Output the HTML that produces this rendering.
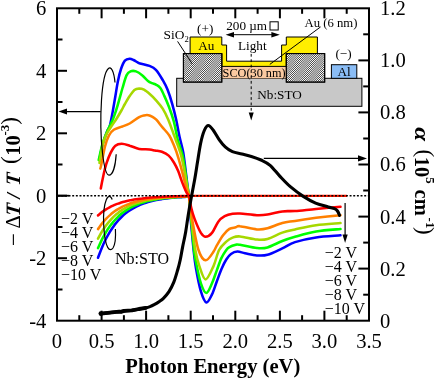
<!DOCTYPE html>
<html><head><meta charset="utf-8">
<style>
html,body{margin:0;padding:0;background:#fff;}
body{width:436px;height:378px;overflow:hidden;font-family:"Liberation Serif",serif;}
svg{display:block;font-family:"Liberation Serif",serif;will-change:transform;}
</style></head>
<body>
<svg width="436" height="378" viewBox="0 0 436 378">
<defs>
<clipPath id="cl1"><rect x="183.4" y="53.6" width="38.4" height="28.5"/></clipPath>
<clipPath id="cl2"><rect x="286.3" y="53.6" width="38.4" height="28.5"/></clipPath>
</defs>


<!-- inset diagram -->
<g stroke="#000" stroke-width="1">
<rect x="176.7" y="78.3" width="185.2" height="28" fill="#c8c8c8"/>
<rect x="221.8" y="66.4" width="64.5" height="11.9" fill="#fac9a0" stroke="none"/>
<polygon points="190.1,37 221.8,37 221.8,45 226.6,45 226.6,61.2 281.6,61.2 281.6,45 286.3,45 286.3,37 317.4,37 317.4,53.6 286.3,53.6 286.3,66.4 221.8,66.4 221.8,53.6 190.1,53.6" fill="#ffee00"/>
<rect x="183.4" y="53.6" width="38.4" height="28.5" fill="#fff"/>
<g clip-path="url(#cl1)" stroke-width="0.75"><line x1="153.76" y1="82.10" x2="183.40" y2="53.60"/><line x1="155.91" y1="82.10" x2="185.55" y2="53.60"/><line x1="158.06" y1="82.10" x2="187.70" y2="53.60"/><line x1="160.21" y1="82.10" x2="189.85" y2="53.60"/><line x1="162.36" y1="82.10" x2="192.00" y2="53.60"/><line x1="164.51" y1="82.10" x2="194.15" y2="53.60"/><line x1="166.66" y1="82.10" x2="196.30" y2="53.60"/><line x1="168.81" y1="82.10" x2="198.45" y2="53.60"/><line x1="170.96" y1="82.10" x2="200.60" y2="53.60"/><line x1="173.11" y1="82.10" x2="202.75" y2="53.60"/><line x1="175.26" y1="82.10" x2="204.90" y2="53.60"/><line x1="177.41" y1="82.10" x2="207.05" y2="53.60"/><line x1="179.56" y1="82.10" x2="209.20" y2="53.60"/><line x1="181.71" y1="82.10" x2="211.35" y2="53.60"/><line x1="183.86" y1="82.10" x2="213.50" y2="53.60"/><line x1="186.01" y1="82.10" x2="215.65" y2="53.60"/><line x1="188.16" y1="82.10" x2="217.80" y2="53.60"/><line x1="190.31" y1="82.10" x2="219.95" y2="53.60"/><line x1="192.46" y1="82.10" x2="222.10" y2="53.60"/><line x1="194.61" y1="82.10" x2="224.25" y2="53.60"/><line x1="196.76" y1="82.10" x2="226.40" y2="53.60"/><line x1="198.91" y1="82.10" x2="228.55" y2="53.60"/><line x1="201.06" y1="82.10" x2="230.70" y2="53.60"/><line x1="203.21" y1="82.10" x2="232.85" y2="53.60"/><line x1="205.36" y1="82.10" x2="235.00" y2="53.60"/><line x1="207.51" y1="82.10" x2="237.15" y2="53.60"/><line x1="209.66" y1="82.10" x2="239.30" y2="53.60"/><line x1="211.81" y1="82.10" x2="241.45" y2="53.60"/><line x1="213.96" y1="82.10" x2="243.60" y2="53.60"/><line x1="216.11" y1="82.10" x2="245.75" y2="53.60"/><line x1="218.26" y1="82.10" x2="247.90" y2="53.60"/><line x1="220.41" y1="82.10" x2="250.05" y2="53.60"/></g>
<rect x="183.4" y="53.6" width="38.4" height="28.5" fill="none"/>
<rect x="286.3" y="53.6" width="38.4" height="28.5" fill="#fff"/>
<g clip-path="url(#cl2)" stroke-width="0.75"><line x1="256.66" y1="82.10" x2="286.30" y2="53.60"/><line x1="258.81" y1="82.10" x2="288.45" y2="53.60"/><line x1="260.96" y1="82.10" x2="290.60" y2="53.60"/><line x1="263.11" y1="82.10" x2="292.75" y2="53.60"/><line x1="265.26" y1="82.10" x2="294.90" y2="53.60"/><line x1="267.41" y1="82.10" x2="297.05" y2="53.60"/><line x1="269.56" y1="82.10" x2="299.20" y2="53.60"/><line x1="271.71" y1="82.10" x2="301.35" y2="53.60"/><line x1="273.86" y1="82.10" x2="303.50" y2="53.60"/><line x1="276.01" y1="82.10" x2="305.65" y2="53.60"/><line x1="278.16" y1="82.10" x2="307.80" y2="53.60"/><line x1="280.31" y1="82.10" x2="309.95" y2="53.60"/><line x1="282.46" y1="82.10" x2="312.10" y2="53.60"/><line x1="284.61" y1="82.10" x2="314.25" y2="53.60"/><line x1="286.76" y1="82.10" x2="316.40" y2="53.60"/><line x1="288.91" y1="82.10" x2="318.55" y2="53.60"/><line x1="291.06" y1="82.10" x2="320.70" y2="53.60"/><line x1="293.21" y1="82.10" x2="322.85" y2="53.60"/><line x1="295.36" y1="82.10" x2="325.00" y2="53.60"/><line x1="297.51" y1="82.10" x2="327.15" y2="53.60"/><line x1="299.66" y1="82.10" x2="329.30" y2="53.60"/><line x1="301.81" y1="82.10" x2="331.45" y2="53.60"/><line x1="303.96" y1="82.10" x2="333.60" y2="53.60"/><line x1="306.11" y1="82.10" x2="335.75" y2="53.60"/><line x1="308.26" y1="82.10" x2="337.90" y2="53.60"/><line x1="310.41" y1="82.10" x2="340.05" y2="53.60"/><line x1="312.56" y1="82.10" x2="342.20" y2="53.60"/><line x1="314.71" y1="82.10" x2="344.35" y2="53.60"/><line x1="316.86" y1="82.10" x2="346.50" y2="53.60"/><line x1="319.01" y1="82.10" x2="348.65" y2="53.60"/><line x1="321.16" y1="82.10" x2="350.80" y2="53.60"/><line x1="323.31" y1="82.10" x2="352.95" y2="53.60"/></g>
<rect x="286.3" y="53.6" width="38.4" height="28.5" fill="none"/>
<rect x="331.4" y="64.7" width="25.4" height="13.6" fill="#8abdf6"/>
<line x1="177.6" y1="41.4" x2="192.2" y2="63.8"/>
<line x1="320.6" y1="26.9" x2="269.8" y2="64.4"/>
<rect x="270" y="21.8" width="8.2" height="8.2" fill="#fff"/>
<line x1="230" y1="34.7" x2="276" y2="34.7"/>
<line x1="251.2" y1="53.9" x2="251.2" y2="113.5" stroke-dasharray="2.8 2.6"/>
</g>
<polygon points="225.6,34.7 234,31.9 234,37.5" fill="#000"/>
<polygon points="279.8,34.7 271.4,31.9 271.4,37.5" fill="#000"/>
<polygon points="251.2,120.4 248.7,112.4 253.7,112.4" fill="#000"/>
<g font-size="13.2" fill="#000">
<text x="163.6" y="39.3" font-size="13.4">SiO<tspan font-size="8.6" dy="3">2</tspan></text>
<text x="205.2" y="33" text-anchor="middle">(+)</text>
<text x="206.2" y="50" text-anchor="middle">Au</text>
<text x="226.2" y="30.3">200 µm</text>
<text x="238" y="49.5">Light</text>
<text x="304.5" y="27.3" font-size="12.7">Au (6 nm)</text>
<text x="343.6" y="58.3" text-anchor="middle">(−)</text>
<text x="344.2" y="76" text-anchor="middle">Al</text>
<text x="257.3" y="98.6">Nb:STO</text>
<text x="222.6" y="76.8" textLength="63" lengthAdjust="spacingAndGlyphs">SCO(30 nm)</text>
</g>

<!-- curves -->
<g fill="none" stroke-width="2.55" stroke-linecap="round" stroke-linejoin="round">
<path d="M98.0 257.7C98.7 256.0 100.7 250.5 102.0 247.4C103.3 244.2 104.7 241.4 106.0 238.8C107.3 236.2 108.7 233.8 110.0 231.6C111.3 229.4 112.7 227.5 114.0 225.7C115.3 223.8 116.7 222.2 118.0 220.7C119.3 219.2 120.7 217.8 122.0 216.5C123.3 215.3 124.7 214.1 126.0 213.1C127.3 212.0 128.7 211.1 130.0 210.2C131.3 209.3 132.7 208.5 134.0 207.8C135.3 207.0 136.7 206.4 138.0 205.8C139.3 205.2 140.7 204.6 142.0 204.1C143.3 203.6 144.7 203.1 146.0 202.7C147.3 202.3 148.7 201.9 150.0 201.5C151.3 201.2 152.7 200.9 154.0 200.6C155.3 200.3 156.7 200.0 158.0 199.8C159.3 199.5 160.7 199.3 162.0 199.1C163.3 198.9 164.7 198.7 166.0 198.5C167.3 198.3 168.7 198.2 170.0 198.0C171.3 197.9 172.7 197.8 174.0 197.7C175.3 197.5 176.7 197.4 178.0 197.3C179.3 197.2 180.7 197.1 182.0 197.1C183.3 197.0 184.8 197.0 186.0 196.8C187.2 196.7 188.5 196.1 189.0 196.0" stroke="#0000ff"/>
<path d="M99.3 160.0C99.9 157.2 101.6 148.3 102.9 143.5C104.2 138.7 106.2 133.9 107.3 131.0C108.4 128.1 108.8 129.4 109.8 125.9C110.8 122.4 112.1 115.0 113.0 110.0C113.9 105.0 114.6 100.7 115.4 96.0C116.2 91.3 116.9 86.2 117.8 81.7C118.7 77.2 119.8 72.5 121.0 69.0C122.2 65.5 123.5 62.3 124.9 60.6C126.4 58.9 128.3 58.8 129.7 58.7C131.1 58.6 132.2 59.4 133.5 60.0C134.8 60.6 136.5 61.8 137.6 62.4C138.7 63.0 138.0 62.9 140.0 63.5C142.0 64.1 146.8 64.9 149.5 65.9C152.2 67.0 153.7 67.5 155.9 69.8C158.1 72.1 160.8 76.7 162.7 80.0C164.6 83.3 165.9 85.5 167.5 89.5C169.1 93.5 170.8 98.8 172.2 103.8C173.6 108.8 175.0 114.2 176.2 119.7C177.4 125.2 178.4 131.6 179.6 137.0C180.8 142.4 182.1 146.2 183.2 152.2C184.2 158.2 185.2 167.1 185.9 172.8C186.6 178.5 187.1 182.7 187.6 186.5C188.1 190.3 188.8 194.2 189.0 195.7" stroke="#0000ff"/>
<path d="M189.0 195.7C189.3 199.4 189.8 208.9 190.6 218.0C191.4 227.1 192.7 241.5 193.6 250.0C194.5 258.5 194.9 262.1 196.1 269.0C197.3 275.9 199.2 285.7 200.9 291.3C202.6 296.9 204.6 301.9 206.4 302.4C208.2 302.9 210.3 297.8 212.0 294.4C213.7 290.9 215.1 285.9 216.7 281.7C218.3 277.5 219.9 272.7 221.5 269.0C223.1 265.3 224.7 262.0 226.3 259.5C227.9 257.0 229.2 255.3 231.0 254.0C232.8 252.7 235.1 251.7 237.4 251.6C239.7 251.5 241.8 252.6 245.0 253.2C248.2 253.8 253.1 255.1 256.9 255.4C260.6 255.7 263.3 256.0 267.5 254.8C271.7 253.6 277.7 250.5 282.3 248.4C286.9 246.3 289.4 243.9 295.0 242.1C300.6 240.3 308.5 238.5 316.1 237.4C323.7 236.3 336.4 235.7 340.5 235.3" stroke="#0000ff"/>
<path d="M98.0 248.1C98.7 246.6 100.7 242.1 102.0 239.4C103.3 236.7 104.7 234.3 106.0 232.1C107.3 229.9 108.7 227.9 110.0 226.1C111.3 224.2 112.7 222.6 114.0 221.0C115.3 219.5 116.7 218.1 118.0 216.8C119.3 215.5 120.7 214.4 122.0 213.3C123.3 212.2 124.7 211.3 126.0 210.4C127.3 209.5 128.7 208.7 130.0 207.9C131.3 207.2 132.7 206.5 134.0 205.9C135.3 205.3 136.7 204.7 138.0 204.2C139.3 203.7 140.7 203.2 142.0 202.8C143.3 202.4 144.7 202.0 146.0 201.6C147.3 201.3 148.7 200.9 150.0 200.6C151.3 200.3 152.7 200.1 154.0 199.8C155.3 199.6 156.7 199.3 158.0 199.1C159.3 198.9 160.7 198.7 162.0 198.6C163.3 198.4 164.7 198.2 166.0 198.1C167.3 197.9 168.7 197.8 170.0 197.7C171.3 197.6 172.7 197.5 174.0 197.4C175.3 197.3 176.7 197.2 178.0 197.1C179.3 197.0 180.7 196.9 182.0 196.9C183.3 196.8 184.8 196.8 186.0 196.7C187.2 196.5 188.5 196.1 189.0 196.0" stroke="#00ff00"/>
<path d="M98.7 160.0C99.4 157.2 101.2 147.9 102.7 143.0C104.2 138.1 105.9 134.3 107.5 130.6C109.1 126.9 110.8 124.4 112.2 121.0C113.7 117.6 115.0 113.6 116.2 110.0C117.4 106.4 118.4 102.9 119.4 99.2C120.5 95.5 121.3 92.0 122.5 88.0C123.7 84.0 125.2 78.2 126.5 75.4C127.8 72.6 128.9 72.1 130.5 71.4C132.1 70.7 134.0 70.7 136.0 71.4C138.0 72.1 140.4 73.8 142.4 75.4C144.4 77.0 146.4 79.7 148.0 81.0C149.6 82.3 150.6 82.6 152.0 83.2C153.4 83.8 154.9 84.0 156.3 84.8C157.7 85.6 159.0 86.1 160.3 87.9C161.6 89.8 162.9 92.7 164.3 95.9C165.8 99.1 167.4 102.8 169.0 107.0C170.6 111.2 172.3 115.8 173.8 121.3C175.3 126.8 176.4 134.4 177.8 140.0C179.2 145.6 181.2 149.5 182.5 155.0C183.8 160.5 184.7 167.6 185.5 172.8C186.3 178.1 186.8 182.7 187.4 186.5C188.0 190.3 188.7 194.2 189.0 195.7" stroke="#00ff00"/>
<path d="M189.0 195.7C189.3 199.4 190.2 208.9 191.0 218.0C191.8 227.1 193.2 242.6 194.0 250.0C194.8 257.4 194.9 257.1 196.1 262.7C197.2 268.2 199.2 278.3 200.9 283.3C202.6 288.3 204.6 292.9 206.4 292.9C208.2 292.9 210.3 287.0 212.0 283.3C213.7 279.6 215.1 274.8 216.7 270.6C218.3 266.4 219.9 261.3 221.5 257.9C223.1 254.5 225.0 251.8 226.3 250.0C227.6 248.2 227.8 248.0 229.4 247.1C231.0 246.2 234.0 245.2 235.8 244.8C237.6 244.4 236.5 244.3 240.0 244.8C243.5 245.3 252.3 247.6 256.9 248.0C261.5 248.4 263.3 248.6 267.5 247.4C271.7 246.2 277.7 242.8 282.3 241.0C286.9 239.2 289.4 238.4 295.0 236.8C300.6 235.2 308.5 232.8 316.1 231.5C323.7 230.2 336.4 229.4 340.5 229.0" stroke="#00ff00"/>
<path d="M98.0 238.6C98.7 237.4 100.7 233.6 102.0 231.5C103.3 229.3 104.7 227.3 106.0 225.5C107.3 223.7 108.7 222.1 110.0 220.6C111.3 219.0 112.7 217.7 114.0 216.4C115.3 215.2 116.7 214.0 118.0 213.0C119.3 211.9 120.7 211.0 122.0 210.1C123.3 209.2 124.7 208.4 126.0 207.7C127.3 207.0 128.7 206.3 130.0 205.7C131.3 205.1 132.7 204.6 134.0 204.1C135.3 203.5 136.7 203.1 138.0 202.7C139.3 202.2 140.7 201.9 142.0 201.5C143.3 201.2 144.7 200.8 146.0 200.5C147.3 200.2 148.7 200.0 150.0 199.7C151.3 199.5 152.7 199.3 154.0 199.1C155.3 198.9 156.7 198.7 158.0 198.5C159.3 198.3 160.7 198.2 162.0 198.0C163.3 197.9 164.7 197.8 166.0 197.7C167.3 197.5 168.7 197.4 170.0 197.3C171.3 197.2 172.7 197.1 174.0 197.1C175.3 197.0 176.7 196.9 178.0 196.8C179.3 196.8 180.7 196.7 182.0 196.6C183.3 196.6 184.8 196.6 186.0 196.5C187.2 196.4 188.5 196.1 189.0 196.0" stroke="#a6d800"/>
<path d="M99.5 163.0C100.0 160.0 101.6 149.6 102.7 145.0C103.8 140.4 104.6 138.3 105.9 135.4C107.2 132.5 108.8 130.4 110.6 127.5C112.4 124.6 115.2 120.9 117.0 118.0C118.8 115.1 120.4 112.3 121.7 110.0C123.0 107.7 123.6 106.3 124.9 104.0C126.2 101.7 128.1 98.3 129.7 96.0C131.3 93.7 132.8 91.3 134.4 90.0C136.0 88.7 137.6 88.5 139.2 88.4C140.8 88.4 142.2 88.7 144.0 89.7C145.8 90.7 147.9 92.5 150.0 94.3C152.1 96.1 154.2 98.2 156.3 100.6C158.4 103.0 160.7 105.4 162.7 108.6C164.7 111.8 166.6 115.7 168.3 119.7C170.0 123.7 171.8 129.0 173.0 132.4C174.2 135.8 174.5 136.2 175.8 140.0C177.1 143.8 179.5 149.5 181.0 155.0C182.5 160.5 183.8 167.6 184.8 172.8C185.8 178.1 186.5 182.7 187.2 186.5C187.9 190.3 188.7 194.2 189.0 195.7" stroke="#a6d800"/>
<path d="M189.0 195.7C189.4 199.8 190.4 210.9 191.5 220.0C192.6 229.1 194.0 242.3 195.3 250.0C196.6 257.6 197.6 261.0 199.3 265.9C201.0 270.8 203.2 279.4 205.6 279.4C208.0 279.4 211.3 270.8 213.6 265.9C215.8 261.0 217.0 254.1 219.1 250.0C221.2 245.9 224.1 243.7 226.3 241.6C228.6 239.5 230.3 238.5 232.6 237.6C234.9 236.7 235.9 236.1 240.0 236.4C244.1 236.7 252.3 239.1 256.9 239.5C261.5 239.9 263.3 240.1 267.5 238.9C271.7 237.8 277.7 234.2 282.3 232.6C286.9 231.0 289.4 230.6 295.0 229.4C300.6 228.2 308.5 226.3 316.1 225.2C323.7 224.1 336.4 223.4 340.5 223.0" stroke="#a6d800"/>
<path d="M98.0 229.1C98.7 228.2 100.7 225.2 102.0 223.5C103.3 221.9 104.7 220.3 106.0 218.9C107.3 217.5 108.7 216.2 110.0 215.1C111.3 213.9 112.7 212.8 114.0 211.8C115.3 210.9 116.7 210.0 118.0 209.2C119.3 208.3 120.7 207.6 122.0 206.9C123.3 206.2 124.7 205.6 126.0 205.1C127.3 204.5 128.7 204.0 130.0 203.5C131.3 203.0 132.7 202.6 134.0 202.2C135.3 201.8 136.7 201.5 138.0 201.1C139.3 200.8 140.7 200.5 142.0 200.2C143.3 199.9 144.7 199.7 146.0 199.5C147.3 199.2 148.7 199.0 150.0 198.8C151.3 198.7 152.7 198.5 154.0 198.3C155.3 198.2 156.7 198.0 158.0 197.9C159.3 197.8 160.7 197.6 162.0 197.5C163.3 197.4 164.7 197.3 166.0 197.2C167.3 197.1 168.7 197.0 170.0 197.0C171.3 196.9 172.7 196.8 174.0 196.8C175.3 196.7 176.7 196.6 178.0 196.6C179.3 196.5 180.7 196.5 182.0 196.4C183.3 196.4 184.8 196.4 186.0 196.3C187.2 196.2 188.5 196.1 189.0 196.0" stroke="#ff8000"/>
<path d="M100.3 168.6C100.4 168.1 100.3 169.3 101.1 165.6C101.9 161.9 103.7 151.5 105.0 146.5C106.3 141.5 107.5 138.2 109.0 135.4C110.5 132.6 111.7 131.2 113.8 129.8C115.9 128.4 119.1 127.8 121.7 126.7C124.3 125.7 126.8 125.1 129.7 123.5C132.6 121.9 136.8 118.4 139.2 117.1C141.6 115.8 142.4 115.7 144.0 115.4C145.6 115.1 147.1 115.0 148.5 115.2C149.9 115.5 151.2 116.2 152.5 116.9C153.8 117.7 154.6 117.9 156.3 119.7C158.0 121.5 160.5 125.0 162.7 127.6C164.9 130.2 167.4 132.6 169.3 135.5C171.2 138.4 172.4 141.7 173.9 145.3C175.4 148.9 176.8 152.7 178.2 157.3C179.6 161.9 181.2 167.9 182.5 172.8C183.8 177.7 184.8 182.7 185.9 186.5C187.0 190.3 188.5 194.2 189.0 195.7" stroke="#ff8000"/>
<path d="M189.0 195.7C189.6 199.8 190.7 210.9 192.3 220.0C193.9 229.1 196.3 243.3 198.5 250.0C200.7 256.7 203.1 260.0 205.6 260.3C208.1 260.6 211.8 254.1 213.6 251.6C215.4 249.1 215.1 248.3 216.7 245.6C218.3 242.9 221.0 238.0 223.1 235.2C225.2 232.4 227.3 230.2 229.4 228.9C231.5 227.6 234.0 227.8 235.8 227.3C237.6 226.9 236.5 225.8 240.0 226.2C243.5 226.5 252.3 229.1 256.9 229.4C261.5 229.8 263.3 229.4 267.5 228.3C271.7 227.2 277.7 224.2 282.3 223.0C286.9 221.8 289.4 221.8 295.0 220.9C300.6 220.0 308.5 218.8 316.1 217.8C323.7 216.9 336.4 215.6 340.5 215.2" stroke="#ff8000"/>
<path d="M98.0 215.4C98.7 214.9 100.7 213.1 102.0 212.1C103.3 211.1 104.7 210.2 106.0 209.4C107.3 208.6 108.7 207.8 110.0 207.1C111.3 206.4 112.7 205.8 114.0 205.2C115.3 204.6 116.7 204.1 118.0 203.6C119.3 203.2 120.7 202.7 122.0 202.3C123.3 201.9 124.7 201.6 126.0 201.2C127.3 200.9 128.7 200.6 130.0 200.3C131.3 200.0 132.7 199.8 134.0 199.5C135.3 199.3 136.7 199.1 138.0 198.9C139.3 198.7 140.7 198.5 142.0 198.4C143.3 198.2 144.7 198.1 146.0 197.9C147.3 197.8 148.7 197.7 150.0 197.6C151.3 197.4 152.7 197.3 154.0 197.2C155.3 197.2 156.7 197.1 158.0 197.0C159.3 196.9 160.7 196.8 162.0 196.8C163.3 196.7 164.7 196.7 166.0 196.6C167.3 196.5 168.7 196.5 170.0 196.4C171.3 196.4 172.7 196.4 174.0 196.3C175.3 196.3 176.7 196.3 178.0 196.2C179.3 196.2 180.7 196.2 182.0 196.1C183.3 196.1 184.8 196.1 186.0 196.1C187.2 196.0 188.5 196.0 189.0 196.0" stroke="#ff0000"/>
<path d="M100.8 188.4C101.2 186.2 102.6 179.1 103.5 175.0C104.4 170.9 105.1 167.5 106.3 163.8C107.5 160.1 109.1 155.9 110.6 152.9C112.1 149.9 113.6 147.2 115.4 145.7C117.2 144.2 119.3 143.8 121.7 143.8C124.1 143.8 126.8 144.8 129.7 145.7C132.6 146.5 135.9 148.3 139.2 148.9C142.5 149.5 146.9 149.2 149.5 149.5C152.1 149.8 152.9 150.1 155.0 150.5C157.1 150.9 159.6 151.0 161.9 151.8C164.2 152.7 166.7 153.8 168.7 155.6C170.7 157.4 172.3 159.9 173.9 162.5C175.5 165.1 176.8 167.7 178.2 171.1C179.6 174.5 181.1 179.5 182.5 183.1C183.9 186.7 185.4 190.4 186.5 192.5C187.6 194.6 188.6 195.2 189.0 195.7" stroke="#ff0000"/>
<path d="M189.0 195.7C189.4 197.8 190.4 204.2 191.3 208.0C192.2 211.8 192.9 214.4 194.5 218.6C196.1 222.8 199.1 229.9 200.9 232.9C202.8 235.9 203.8 236.8 205.6 236.8C207.4 236.8 209.9 235.4 212.0 232.9C214.1 230.4 216.2 224.5 218.3 221.7C220.4 218.9 222.3 217.5 224.7 216.2C227.1 214.9 230.0 214.2 232.6 213.8C235.2 213.4 235.9 213.3 240.0 213.5C244.1 213.7 252.3 215.0 256.9 215.2C261.5 215.4 263.3 215.2 267.5 214.6C271.7 214.0 277.7 212.0 282.3 211.4C286.9 210.8 289.4 211.4 295.0 211.0C300.6 210.6 308.5 209.6 316.1 208.9C323.7 208.2 336.4 207.2 340.5 206.8" stroke="#ff0000"/>
</g>
<!-- zero line -->
<line x1="189" y1="195.9" x2="347" y2="195.9" stroke="#ff1800" stroke-width="2.1"/>
<line x1="57" y1="195.7" x2="69.4" y2="195.7" stroke="#000" stroke-width="1.7"/>
<line x1="57.6" y1="195.7" x2="369" y2="195.7" stroke="#000" stroke-width="1.55" stroke-dasharray="1.95 1.7"/>
<path d="M101.0 313.6C102.5 313.4 107.0 312.9 110.0 312.6C113.0 312.3 115.3 312.0 119.0 311.6C122.7 311.2 128.7 310.8 132.0 310.3C135.3 309.9 136.8 309.3 139.0 308.9C141.2 308.5 143.2 308.4 145.0 308.0C146.8 307.6 148.5 307.2 150.0 306.6C151.5 306.1 152.7 305.5 154.2 304.7C155.7 303.9 157.5 302.9 159.0 301.8C160.5 300.7 161.7 300.0 163.4 298.3C165.1 296.6 167.3 294.4 169.0 291.7C170.7 289.0 172.3 285.9 173.8 282.2C175.3 278.5 176.7 273.2 177.8 269.5C178.9 265.8 179.4 263.6 180.2 260.0C181.0 256.4 181.6 252.3 182.5 247.6C183.4 242.9 184.8 237.0 185.7 231.7C186.6 226.4 187.2 221.5 188.1 215.9C189.0 210.3 190.1 203.9 191.2 198.0C192.3 192.1 193.4 186.5 194.5 180.5C195.6 174.5 196.5 168.2 197.5 162.0C198.5 155.8 199.5 148.8 200.6 143.5C201.7 138.2 203.0 133.5 204.3 130.5C205.6 127.5 206.8 125.5 208.3 125.5C209.8 125.5 211.5 127.8 213.3 130.2C215.1 132.6 217.3 137.0 219.3 139.8C221.3 142.6 223.0 144.9 225.2 146.9C227.4 148.9 229.6 150.5 232.4 151.7C235.2 152.9 238.7 153.2 241.9 154.0C245.1 154.8 248.2 155.4 251.4 156.4C254.6 157.4 257.9 158.5 261.0 160.0C264.1 161.5 266.9 162.5 270.1 165.3C273.3 168.1 276.8 173.0 280.2 176.6C283.6 180.2 286.5 183.4 290.3 186.7C294.1 189.9 298.7 193.4 302.9 196.1C307.1 198.8 311.4 201.3 315.6 203.1C319.8 204.9 325.1 206.0 328.2 206.9C331.3 207.8 332.9 208.0 334.5 208.7C336.1 209.4 336.7 209.9 337.5 211.0C338.3 212.1 339.2 214.6 339.5 215.3" fill="none" stroke="#000" stroke-width="3.1" stroke-linecap="round" stroke-linejoin="round"/>
<path d="M101 313.7L110 312.7L119 311.6L121 312L124 310.9L132 310.3L139 309L146 307.9" fill="none" stroke="#000" stroke-width="3.8" stroke-linecap="round" stroke-linejoin="round"/>
<circle cx="100.8" cy="313.6" r="2.3" fill="#000"/>

<!-- ellipses & arrows -->
<g fill="none" stroke="#000" stroke-width="1.2">
<path d="M115 82.5 C113 60 104 62 101.5 100 C99 140 104 175 109 175.2 C113 175.2 115.5 165 116.2 154.3"/>
<path d="M112.2 199.5 C109 191 102.5 200 103.7 225 C105 250 110 252 113 248 C115.5 244 115.8 236 115.4 229"/>
<line x1="100.8" y1="111.6" x2="62" y2="111.6"/>
<line x1="263.8" y1="158.4" x2="360" y2="158.4"/>
<line x1="345.1" y1="203" x2="345.1" y2="236"/>
</g>
<polygon points="58.5,111.6 67,108.6 67,114.6" fill="#000"/>
<polygon points="367,158.4 358,155.3 358,161.5" fill="#000"/>
<polygon points="345.1,243 342.5,234.5 347.7,234.5" fill="#000"/>

<!-- frame -->
<rect x="57" y="8.3" width="312" height="312.4" fill="none" stroke="#000" stroke-width="2"/>
<g stroke="#000" stroke-width="2">
<line x1="79.3" y1="320.7" x2="79.3" y2="315.2"/>
<line x1="79.3" y1="8.3" x2="79.3" y2="13.8"/>
<line x1="101.6" y1="320.7" x2="101.6" y2="310.7"/>
<line x1="101.6" y1="8.3" x2="101.6" y2="18.3"/>
<line x1="123.9" y1="320.7" x2="123.9" y2="315.2"/>
<line x1="123.9" y1="8.3" x2="123.9" y2="13.8"/>
<line x1="146.1" y1="320.7" x2="146.1" y2="310.7"/>
<line x1="146.1" y1="8.3" x2="146.1" y2="18.3"/>
<line x1="168.4" y1="320.7" x2="168.4" y2="315.2"/>
<line x1="168.4" y1="8.3" x2="168.4" y2="13.8"/>
<line x1="190.7" y1="320.7" x2="190.7" y2="310.7"/>
<line x1="190.7" y1="8.3" x2="190.7" y2="18.3"/>
<line x1="213.0" y1="320.7" x2="213.0" y2="315.2"/>
<line x1="213.0" y1="8.3" x2="213.0" y2="13.8"/>
<line x1="235.3" y1="320.7" x2="235.3" y2="310.7"/>
<line x1="235.3" y1="8.3" x2="235.3" y2="18.3"/>
<line x1="257.6" y1="320.7" x2="257.6" y2="315.2"/>
<line x1="257.6" y1="8.3" x2="257.6" y2="13.8"/>
<line x1="279.9" y1="320.7" x2="279.9" y2="310.7"/>
<line x1="279.9" y1="8.3" x2="279.9" y2="18.3"/>
<line x1="302.1" y1="320.7" x2="302.1" y2="315.2"/>
<line x1="302.1" y1="8.3" x2="302.1" y2="13.8"/>
<line x1="324.4" y1="320.7" x2="324.4" y2="310.7"/>
<line x1="324.4" y1="8.3" x2="324.4" y2="18.3"/>
<line x1="346.7" y1="320.7" x2="346.7" y2="315.2"/>
<line x1="346.7" y1="8.3" x2="346.7" y2="13.8"/>
<line x1="57.0" y1="39.5" x2="62.5" y2="39.5"/>
<line x1="57.0" y1="70.8" x2="67.0" y2="70.8"/>
<line x1="57.0" y1="102.0" x2="62.5" y2="102.0"/>
<line x1="57.0" y1="133.3" x2="67.0" y2="133.3"/>
<line x1="57.0" y1="164.5" x2="62.5" y2="164.5"/>
<line x1="57.0" y1="195.7" x2="67.0" y2="195.7"/>
<line x1="57.0" y1="227.0" x2="62.5" y2="227.0"/>
<line x1="57.0" y1="258.2" x2="67.0" y2="258.2"/>
<line x1="57.0" y1="289.5" x2="62.5" y2="289.5"/>
<line x1="369.0" y1="294.7" x2="363.2" y2="294.7"/>
<line x1="369.0" y1="268.6" x2="358.4" y2="268.6"/>
<line x1="369.0" y1="242.6" x2="363.2" y2="242.6"/>
<line x1="369.0" y1="216.6" x2="358.4" y2="216.6"/>
<line x1="369.0" y1="190.5" x2="363.2" y2="190.5"/>
<line x1="369.0" y1="164.5" x2="358.4" y2="164.5"/>
<line x1="369.0" y1="138.5" x2="363.2" y2="138.5"/>
<line x1="369.0" y1="112.4" x2="358.4" y2="112.4"/>
<line x1="369.0" y1="86.4" x2="363.2" y2="86.4"/>
<line x1="369.0" y1="60.4" x2="358.4" y2="60.4"/>
<line x1="369.0" y1="34.3" x2="363.2" y2="34.3"/>
</g>

<g font-size="20.6" fill="#000">
<text x="46.3" y="15.2" text-anchor="end">6</text>
<text x="46.3" y="77.7" text-anchor="end">4</text>
<text x="46.3" y="140.2" text-anchor="end">2</text>
<text x="46.3" y="202.6" text-anchor="end">0</text>
<text x="46.3" y="265.1" text-anchor="end">-2</text>
<text x="46.3" y="327.6" text-anchor="end">-4</text>
<text x="57.0" y="347.6" text-anchor="middle">0</text>
<text x="101.6" y="347.6" text-anchor="middle">0.5</text>
<text x="146.1" y="347.6" text-anchor="middle">1.0</text>
<text x="190.7" y="347.6" text-anchor="middle">1.5</text>
<text x="235.3" y="347.6" text-anchor="middle">2.0</text>
<text x="279.9" y="347.6" text-anchor="middle">2.5</text>
<text x="324.4" y="347.6" text-anchor="middle">3.0</text>
<text x="369.0" y="347.6" text-anchor="middle">3.5</text>
<text x="380" y="327.6">0</text>
<text x="380" y="275.5">0.2</text>
<text x="380" y="223.5">0.4</text>
<text x="380" y="171.4">0.6</text>
<text x="380" y="119.3">0.8</text>
<text x="380" y="67.3">1.0</text>
<text x="380" y="15.2">1.2</text>
</g>

<g font-size="16" fill="#000">
<text x="61" y="224.2">−2 V</text>
<text x="61" y="238.1">−4 V</text>
<text x="61" y="252">−6 V</text>
<text x="61" y="265.9">−8 V</text>
<text x="61" y="279.8">−10 V</text>
<text x="115" y="264">Nb:STO</text>
<text x="324.8" y="258.1">−2 V</text>
<text x="324.8" y="271.9">−4 V</text>
<text x="324.8" y="285.8">−6 V</text>
<text x="324.8" y="299.6">−8 V</text>
<text x="324.8" y="313.5">−10 V</text>
</g>

<text x="125.3" y="373" font-size="20.6" font-weight="bold">Photon Energy (eV)</text>
<g transform="translate(19.6,0) rotate(-90)" font-size="20.5" font-weight="bold" fill="#000">
<text x="-245.9" y="1.2" font-weight="normal" font-size="23">−</text>
<text x="-228.6" y="0" font-weight="normal">Δ</text>
<text transform="translate(-216.4,0) skewX(-6)" font-style="italic">T</text>
<text x="-198.6" y="0" font-style="italic" font-size="19.5">/</text>
<text transform="translate(-186,0) skewX(-6)" font-style="italic">T</text>
<text x="-163.9" y="-3" font-weight="normal" font-size="23">(</text>
<text x="-155.8" y="0">10</text>
<text x="-135.6" y="-11" font-size="13">-3</text>
<text x="-124.8" y="-3" font-weight="normal" font-size="23">)</text>
</g>
<g transform="translate(415,0) rotate(90)" font-size="20.5" font-weight="bold" fill="#000">
<text transform="translate(127.2,0) scale(1.22,1)" font-style="italic">α</text>
<text x="149.5" y="-3" font-weight="normal" font-size="23">(</text>
<text x="156.7" y="0">10</text>
<text x="177.3" y="-11" font-size="13">5</text>
<text x="189.6" y="0">cm</text>
<text x="217.6" y="-11" font-size="13">-1</text>
<text x="227" y="-3" font-weight="normal" font-size="23">)</text>
</g>
</svg>
</body></html>
